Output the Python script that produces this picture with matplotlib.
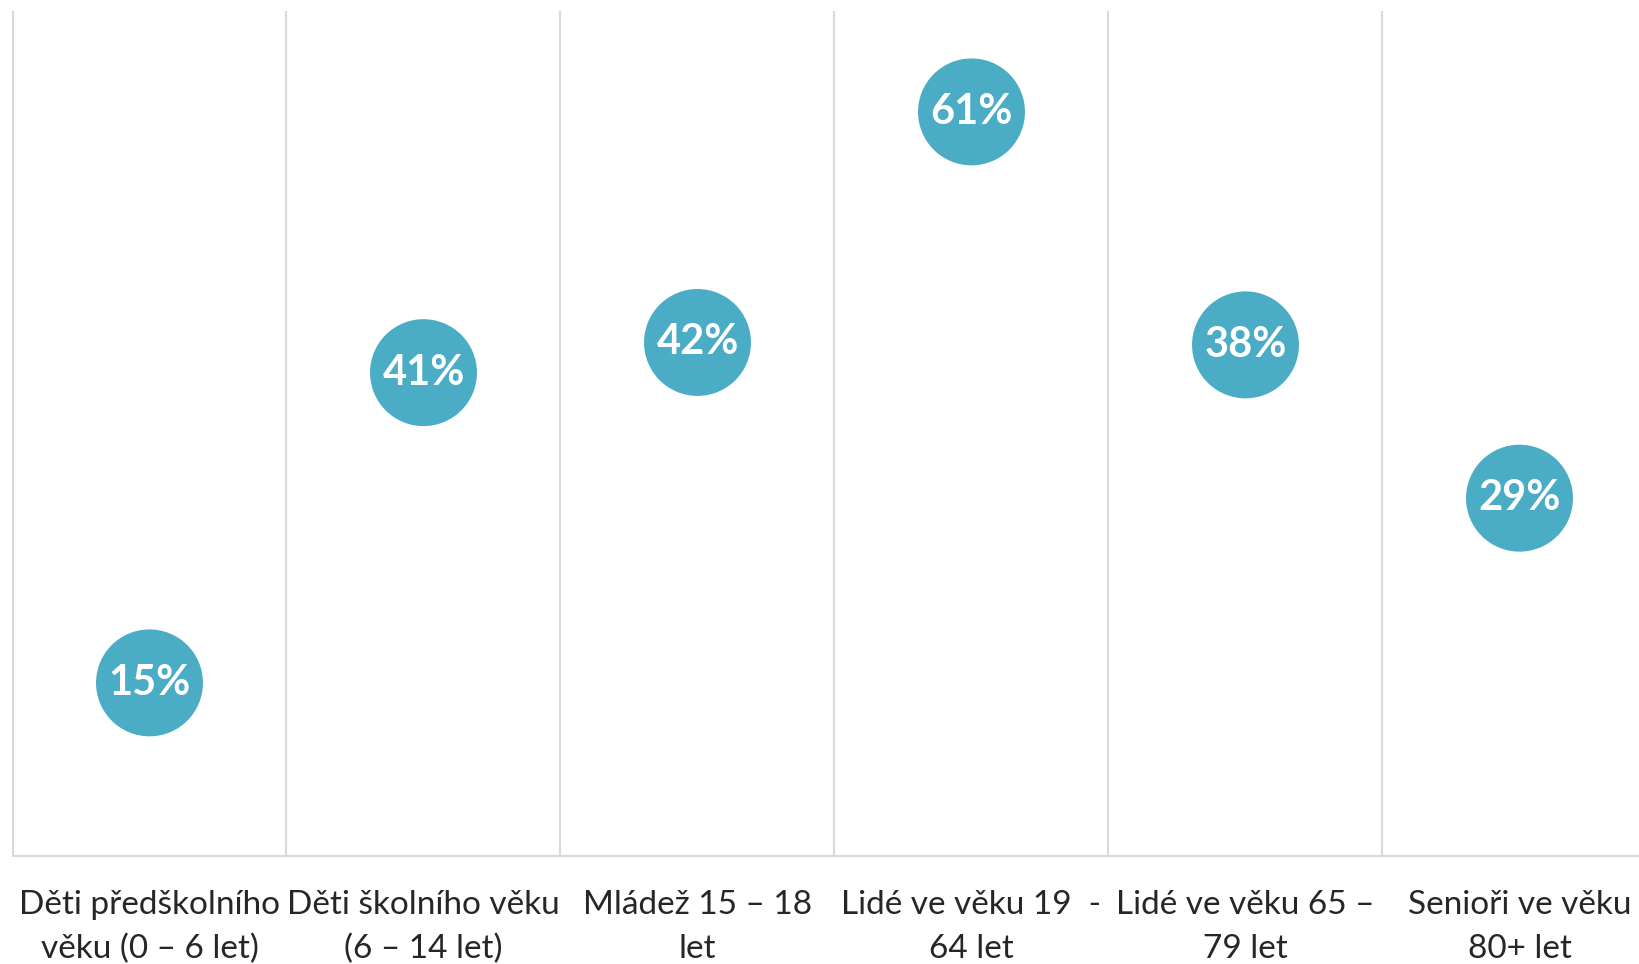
import matplotlib
matplotlib.use("Agg")
import matplotlib.pyplot as plt

categories = ["Děti předškolního\nvěku (0 – 6 let)", "Děti školního věku\n(6 – 14 let)",
              "Mládež 15 – 18\nlet", "Lidé ve věku 19  -\n64 let",
              "Lidé ve věku 65 –\n79 let", "Senioři ve věku\n80+ let"]
positions = [14.3, 40.0, 42.5, 61.6, 42.3, 29.6]
labels = ["15%", "41%", "42%", "61%", "38%", "29%"]

W, H = 1640, 964
fig = plt.figure(figsize=(W / 100, H / 100), dpi=100)
left, right, bottom, top = 12.5, 12.5 + 6 * 274, 855.5, 10.5
ax = fig.add_axes([left / W, 1 - bottom / H, (right - left) / W, (bottom - top) / H])
ax.set_xlim(-0.5, 5.5)
ax.set_ylim(0, 70)
for s in ["top", "right", "left"]:
    ax.spines[s].set_visible(False)
ax.spines["bottom"].set_color("#D9D9D9")
ax.spines["bottom"].set_linewidth(1.5)
for b in range(7):
    ax.axvline(b - 0.5, color="#D9D9D9", lw=1.5, zorder=0)
ax.set_yticks([])
x = list(range(len(categories)))
ax.scatter(x, positions, s=77 ** 2, color="#4BACC6", edgecolors="none", zorder=3)
for xi, yi, lab in zip(x, positions, labels):
    ax.text(xi, yi, lab, ha="center", va="center", color="white", fontsize=30,
            fontweight="bold", family="Lato", zorder=4)
ax.set_xticks(x)
ax.set_xticklabels(categories, fontsize=24, family="Lato", color="#262626", linespacing=1.6)
ax.tick_params(axis="x", length=0, pad=24.5)
fig.savefig("out.png", dpi=100)
